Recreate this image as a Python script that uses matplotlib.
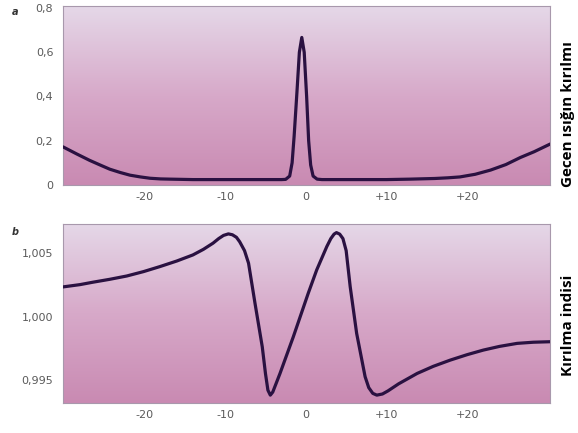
import numpy as np
import matplotlib
matplotlib.use("Agg")
import matplotlib.pyplot as plt
from matplotlib.colors import LinearSegmentedColormap

# panel a - transmitted light
xa = [-30.1, -28.4, -26.8, -25.5, -24.3, -23.0, -21.8, -20.5, -19.3, -18.0, -16.8,
      -14.0, -10.0, -6.0, -3.0, -2.5, -2.0, -1.7, -1.45, -1.1, -0.8, -0.5, -0.2,
      0.1, 0.35, 0.6, 0.9, 1.4, 2.0, 6.0, 10.0, 12.9, 16.0, 17.6, 19.1, 21.0,
      22.9, 24.8, 26.6, 28.3, 30.3]
ya = [0.172, 0.140, 0.111, 0.090, 0.071, 0.056, 0.044, 0.036, 0.030, 0.027, 0.026,
      0.024, 0.024, 0.024, 0.024, 0.025, 0.040, 0.100, 0.22, 0.42, 0.60, 0.667, 0.60,
      0.40, 0.20, 0.09, 0.040, 0.026, 0.024, 0.024, 0.024, 0.026, 0.029, 0.032,
      0.036, 0.048, 0.067, 0.092, 0.124, 0.150, 0.185]

# panel b - refractive index
xb = [-30.1, -28.0, -26.4, -24.3, -22.2, -20.1, -18.1, -16.0, -14.0, -12.7, -11.5,
      -10.8, -10.2, -9.6, -9.1, -8.6, -8.2, -7.6, -7.1, -6.3, -5.4, -5.0, -4.7,
      -4.4, -4.1, -3.7, -3.2, -1.55, 0.3, 1.35, 2.6, 3.1, 3.5, 3.8, 4.2, 4.6,
      5.0, 5.5, 6.3, 7.35, 7.8, 8.3, 8.8, 9.5, 10.2, 11.5, 13.8, 15.8, 17.9,
      20.0, 22.0, 24.0, 26.2, 28.2, 30.3]
yb = [1.00234, 1.00252, 1.00271, 1.00294, 1.00320, 1.00355, 1.00394, 1.00438, 1.00486,
      1.00530, 1.00579, 1.00615, 1.00640, 1.00652, 1.00645, 1.00625, 1.00590, 1.00520,
      1.00421, 1.00105, 0.99762, 0.99550, 0.99420, 0.99381, 0.99405, 0.99470, 0.99552,
      0.99841, 1.00184, 1.00368, 1.00552, 1.00615, 1.00650, 1.00662, 1.00650, 1.00615,
      1.00520, 1.00236, 0.99868, 0.99526, 0.99440, 0.99395, 0.99381, 0.99390, 0.99415,
      0.99470, 0.99552, 0.99608, 0.99657, 0.99700, 0.99736, 0.99765, 0.99789, 0.99798,
      0.99802]

xticks = [-20, -10, 0, 10, 20]
xticklabels = ["-20", "-10", "0", "+10", "+20"]
yticks_a = [0, 0.2, 0.4, 0.6, 0.8]
yticklabels_a = ["0", "0,2", "0,4", "0,6", "0,8"]
yticks_b = [0.995, 1.000, 1.005]
yticklabels_b = ["0,995", "1,000", "1,005"]

label_a = "Gecen ısığın kırılmı"
label_b = "Kırılma indisi"

plt.rcParams["font.family"] = ["DejaVu Sans"]
fig = plt.figure(figsize=(5.78, 4.33), dpi=100)
fig.patch.set_facecolor("white")

bg = LinearSegmentedColormap.from_list("bg", ["#c98ab2", "#d7a9c9", "#e5d8e8"])
grad = np.linspace(0, 1, 256).reshape(-1, 1)
linecol = "#2a1141"

ax1 = fig.add_axes([0.109, 0.573, 0.843, 0.413])
ax2 = fig.add_axes([0.109, 0.069, 0.843, 0.414])

for ax in (ax1, ax2):
    ax.imshow(grad, extent=[0, 1, 0, 1], transform=ax.transAxes, aspect="auto",
              cmap=bg, origin="lower", zorder=0)
    for s in ax.spines.values():
        s.set_color("#a898ac")
        s.set_linewidth(0.8)
    ax.set_xlim(-30.1, 30.3)
    ax.set_xticks(xticks)
    ax.set_xticklabels(xticklabels)
    ax.tick_params(length=0, labelsize=8, colors="#5a5a5a", pad=5)
    ax.tick_params(axis="y", pad=7)

ax1.plot(xa, ya, color=linecol, lw=2.3, solid_joinstyle="round", solid_capstyle="round", zorder=3)
ax1.set_ylim(0.0133, 0.809)
ax1.set_yticks(yticks_a)
ax1.set_yticklabels(yticklabels_a)

ax2.plot(xb, yb, color=linecol, lw=2.3, solid_joinstyle="round", solid_capstyle="round", zorder=3)
ax2.set_ylim(0.99318, 1.00731)
ax2.set_yticks(yticks_b)
ax2.set_yticklabels(yticklabels_b)

fig.text(0.026, 0.972, "a", fontsize=7, style="italic", fontweight="bold", color="#333333",
         ha="center", va="center")
fig.text(0.026, 0.464, "b", fontsize=7, style="italic", fontweight="bold", color="#333333",
         ha="center", va="center")

fig.text(0.983, 0.737, label_a, rotation=90, ha="center", va="center",
         fontsize=11, fontweight="bold", family=["Open Sans", "DejaVu Sans"])
fig.text(0.983, 0.249, label_b, rotation=90, ha="center", va="center",
         fontsize=11, fontweight="bold", family=["Open Sans", "DejaVu Sans"])

fig.savefig("out.png", dpi=100)
